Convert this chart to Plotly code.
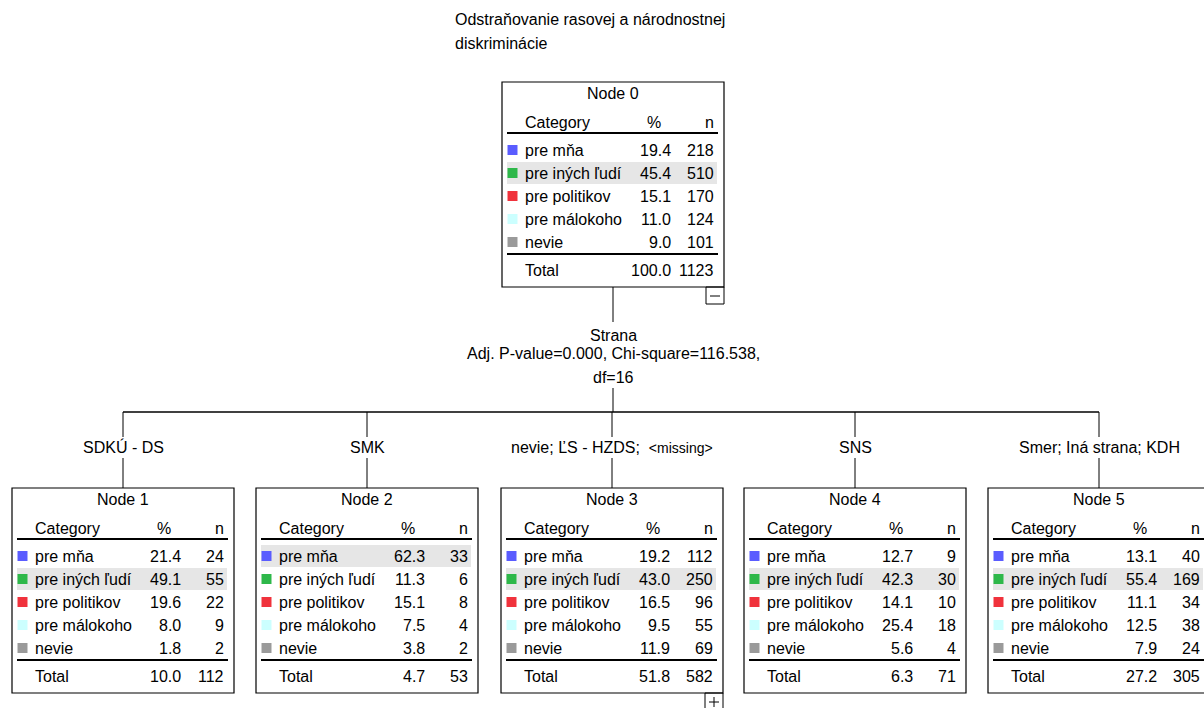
import plotly.graph_objects as go

# ---------------- data ----------------
title_lines = ["Odstraňovanie rasovej a národnostnej", "diskriminácie"]
categories = ["pre mňa", "pre iných ľudí", "pre politikov", "pre málokoho", "nevie"]
cat_colors = ["#5a5cff", "#2eb84a", "#f0323c", "#ccffff", "#9a9a9a"]
node_names = ["Node 0", "Node 1", "Node 2", "Node 3", "Node 4", "Node 5"]
node_pct = [
    [19.4, 45.4, 15.1, 11.0, 9.0],
    [21.4, 49.1, 19.6, 8.0, 1.8],
    [62.3, 11.3, 15.1, 7.5, 3.8],
    [19.2, 43.0, 16.5, 9.5, 11.9],
    [12.7, 42.3, 14.1, 25.4, 5.6],
    [13.1, 55.4, 11.1, 12.5, 7.9],
]
node_n = [
    [218, 510, 170, 124, 101],
    [24, 55, 22, 9, 2],
    [33, 6, 8, 4, 2],
    [112, 250, 96, 55, 69],
    [9, 30, 10, 18, 4],
    [40, 169, 34, 38, 24],
]
total_pct = [100.0, 10.0, 4.7, 51.8, 6.3, 27.2]
total_n = [1123, 112, 53, 582, 71, 305]
split_var = "Strana"
split_stats = ["Adj. P-value=0.000, Chi-square=116.538,", "df=16"]
branch_labels = ["SDKÚ - DS", "SMK", "nevie; ĽS - HZDS;  <span style='font-size:14px'>&lt;missing&gt;</span>",
                 "SNS", "Smer; Iná strana; KDH"]

# ---------------- layout ----------------
FONT = "Liberation Sans, Arial, sans-serif"
FS = 16
node_x = [502, 12, 256, 501, 744, 988]
node_y = [82, 488, 488, 488, 488, 488]
W, H = 222, 205

shapes, annots = [], []
sq_x, sq_y, sq_c = [], [], []


def line(x0, y0, x1, y1, w=1.0, color="#000000"):
    shapes.append(dict(type="line", xref="x", yref="y", x0=x0, y0=y0, x1=x1, y1=y1,
                       line=dict(color=color, width=w)))


def text(x, y, s, anchor="left", size=FS):
    annots.append(dict(x=x, y=y, xref="x", yref="y", text=s, showarrow=False,
                       xanchor=anchor, yanchor="middle",
                       font=dict(family=FONT, size=size, color="#000000")))


for k in range(len(node_names)):
    L, T = node_x[k], node_y[k]
    # highlight modal row
    m = node_pct[k].index(max(node_pct[k]))
    yc = T + 68 + 23 * m
    shapes.append(dict(type="rect", xref="x", yref="y", x0=L + 5, x1=L + 215, y0=yc - 11, y1=yc + 11,
                       fillcolor="#e6e6e6", line=dict(width=0), layer="below"))
    # box
    shapes.append(dict(type="rect", xref="x", yref="y", x0=L, x1=L + W, y0=T, y1=T + H,
                       line=dict(color="#000000", width=1.2)))
    text(L + W / 2, T + 11, node_names[k], "center")
    text(L + 21, T + 40, "Category")
    text(L + 152, T + 40, "%", "center")
    text(L + 214, T + 40, "n", "right")
    line(L + 5, T + 51, L + 216, T + 51, 2)
    for i, c in enumerate(categories):
        y = T + 68 + 23 * i
        sq_x.append(L + 10.5)
        sq_y.append(y)
        sq_c.append(cat_colors[i])
        text(L + 21, y, c)
        text(L + 171, y, f"{node_pct[k][i]:.1f}", "right")
        text(L + 214, y, f"{node_n[k][i]}", "right")
    line(L + 5, T + 172, L + 216, T + 172, 2)
    text(L + 21, T + 188, "Total")
    text(L + 171, T + 188, f"{total_pct[k]:.1f}", "right")
    text(L + 214, T + 188, f"{total_n[k]}", "right")

# title
text(453, 19, title_lines[0])
text(453, 43, title_lines[1])

# connectors from root
root_cx = node_x[0] + W / 2
line(root_cx, node_y[0] + H, root_cx, 322)
text(root_cx, 335, split_var, "center")
text(root_cx, 353, split_stats[0], "center")
text(root_cx, 377, split_stats[1], "center")
line(root_cx, 388, root_cx, 412)
child_cx = [node_x[j] + W / 2 for j in range(1, 6)]
line(child_cx[0], 412, child_cx[-1], 412, 1.5)
for j, cx in enumerate(child_cx):
    line(cx, 412, cx, 437)
    text(cx, 447, branch_labels[j], "center")
    line(cx, 458, cx, node_y[j + 1])

# collapse / expand boxes
bx = node_x[0] + W - 18
shapes.append(dict(type="rect", xref="x", yref="y", x0=bx, x1=bx + 18, y0=node_y[0] + H, y1=node_y[0] + H + 17,
                   line=dict(color="#000000", width=1)))
line(bx + 4, node_y[0] + H + 9, bx + 14, node_y[0] + H + 9)
bx3 = node_x[3] + W - 18
shapes.append(dict(type="rect", xref="x", yref="y", x0=bx3, x1=bx3 + 18, y0=node_y[3] + H, y1=node_y[3] + H + 17,
                   line=dict(color="#000000", width=1)))
line(bx3 + 4, node_y[3] + H + 9, bx3 + 14, node_y[3] + H + 9)
line(bx3 + 9, node_y[3] + H + 4, bx3 + 9, node_y[3] + H + 14)

fig = go.Figure()
fig.add_trace(go.Scatter(x=sq_x, y=sq_y, mode="markers", hoverinfo="skip",
                         marker=dict(symbol="square", size=10, color=sq_c, line=dict(width=0))))
fig.update_layout(
    width=1204, height=708, autosize=False,
    margin=dict(l=0, r=0, t=0, b=0),
    paper_bgcolor="white", plot_bgcolor="white",
    showlegend=False,
    xaxis=dict(range=[0, 1204], visible=False, fixedrange=True),
    yaxis=dict(range=[708, 0], visible=False, fixedrange=True),
    shapes=shapes, annotations=annots,
)
fig.write_html("out.html", config={"displayModeBar": False},
               post_script="document.body.style.margin='0';document.body.style.overflow='hidden';")
